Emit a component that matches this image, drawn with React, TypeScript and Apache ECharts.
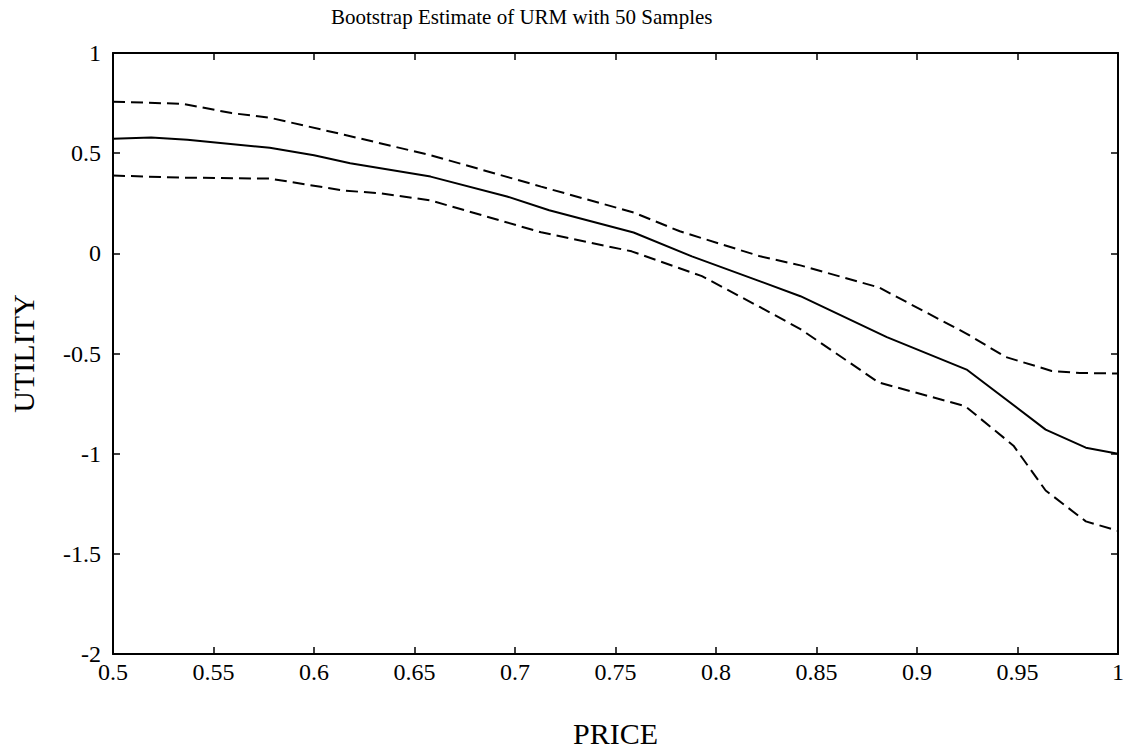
import React, { useEffect, useRef } from "react";
import * as echarts from "echarts";

const TITLE = "Bootstrap Estimate of URM with 50 Samples";
const X_NAME = "PRICE";
const Y_NAME = "UTILITY";

const meanPrice = [0.5, 0.519, 0.537, 0.578, 0.6, 0.618, 0.658, 0.696, 0.717, 0.759, 0.788, 0.822, 0.842, 0.885, 0.925, 0.964, 0.984, 1.0];
const meanUtility = [0.572, 0.578, 0.567, 0.527, 0.49, 0.45, 0.383, 0.284, 0.215, 0.104, -0.015, -0.14, -0.214, -0.418, -0.582, -0.88, -0.97, -1.0];

const upperPrice = [0.5, 0.535, 0.559, 0.578, 0.615, 0.658, 0.713, 0.759, 0.782, 0.822, 0.842, 0.881, 0.925, 0.944, 0.967, 0.981, 1.0];
const upperUtility = [0.757, 0.746, 0.7, 0.677, 0.592, 0.49, 0.333, 0.204, 0.11, -0.015, -0.06, -0.17, -0.403, -0.517, -0.587, -0.597, -0.6];

const lowerPrice = [0.5, 0.535, 0.578, 0.615, 0.633, 0.658, 0.713, 0.758, 0.793, 0.822, 0.842, 0.881, 0.924, 0.948, 0.964, 0.984, 1.0];
const lowerUtility = [0.388, 0.378, 0.373, 0.313, 0.3, 0.264, 0.105, 0.01, -0.114, -0.269, -0.378, -0.645, -0.763, -0.96, -1.184, -1.338, -1.385];

const xMin = 0.5, xMax = 1, xStep = 0.05;
const yMin = -2, yMax = 1, yStep = 0.5;

const zip = (xs: number[], ys: number[]) => xs.map((x, i) => [x, ys[i]]);

const FONT = "'Liberation Serif', 'Times New Roman', serif";

export default function App() {
  const ref = useRef<HTMLDivElement>(null);
  useEffect(() => {
    document.body.style.margin = "0";
    const chart = echarts.init(ref.current!, null, { renderer: "svg" });
    const axisLine = { show: true, onZero: false, lineStyle: { color: "#000", width: 2 } };
    const axisTick = { show: true, inside: true, length: 7, lineStyle: { color: "#000", width: 1.5 } };
    const label = { color: "#000", fontFamily: FONT, fontSize: 24 };
    chart.setOption({
      animation: false,
      backgroundColor: "#fff",
      textStyle: { fontFamily: FONT, color: "#000" },
      title: {
        text: TITLE,
        left: 326,
        top: 1,
        textStyle: { color: "#000", fontFamily: FONT, fontSize: 21, fontWeight: "normal" },
      },
      grid: { left: 112, right: 8, top: 53, bottom: 97 },
      xAxis: [
        {
          type: "value", min: xMin, max: xMax, interval: xStep, position: "bottom",
          axisLine, axisTick, splitLine: { show: false },
          axisLabel: { ...label, margin: 6 },
          name: X_NAME, nameLocation: "middle", nameGap: 64,
          nameTextStyle: { color: "#000", fontFamily: FONT, fontSize: 30 },
        },
        {
          type: "value", min: xMin, max: xMax, interval: xStep, position: "top",
          axisLine, axisTick, splitLine: { show: false }, axisLabel: { show: false },
        },
      ],
      yAxis: [
        {
          type: "value", min: yMin, max: yMax, interval: yStep, position: "left",
          axisLine, axisTick, splitLine: { show: false },
          axisLabel: { ...label, margin: 12 },
          name: Y_NAME, nameLocation: "middle", nameGap: 75, nameRotate: 90,
          nameTextStyle: { color: "#000", fontFamily: FONT, fontSize: 30 },
        },
        {
          type: "value", min: yMin, max: yMax, interval: yStep, position: "right",
          axisLine, axisTick, splitLine: { show: false }, axisLabel: { show: false },
        },
      ],
      series: [
        {
          type: "line", data: zip(meanPrice, meanUtility), showSymbol: false,
          lineStyle: { color: "#000", width: 2 },
        },
        {
          type: "line", data: zip(upperPrice, upperUtility), showSymbol: false,
          lineStyle: { color: "#000", width: 2, type: [12, 6] },
        },
        {
          type: "line", data: zip(lowerPrice, lowerUtility), showSymbol: false,
          lineStyle: { color: "#000", width: 2, type: [12, 6] },
        },
      ],
    });
    return () => chart.dispose();
  }, []);
  return <div ref={ref} style={{ width: 1127, height: 753 }} />;
}
